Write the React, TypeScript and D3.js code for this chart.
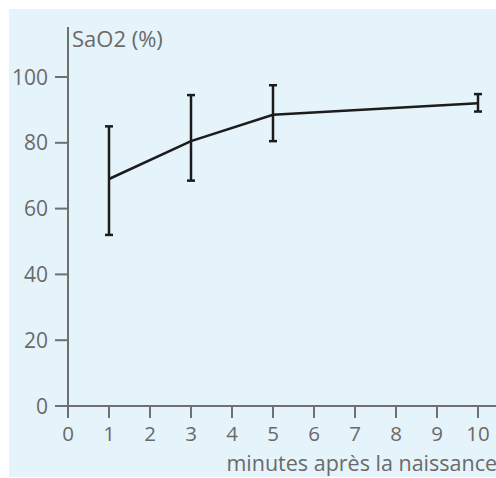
import React from "react";
import * as d3 from "d3";

const minutes = [1, 3, 5, 10];
const meanSaO2 = [69, 80.5, 88.5, 92];
const upperSaO2 = [85, 94.5, 97.5, 94.8];
const lowerSaO2 = [52, 68.5, 80.5, 89.5];
const xTicks = [0, 1, 2, 3, 4, 5, 6, 7, 8, 9, 10];
const yTicks = [0, 20, 40, 60, 80, 100];
const yTitle = "SaO2 (%)";
const xTitle = "minutes après la naissance";

export default function App() {
  const W = 496, H = 478;
  const x = d3.scaleLinear().domain([0, 10]).range([68, 478]);
  const y = d3.scaleLinear().domain([0, 100]).range([406, 77]);
  const line = d3.line<number>().x((_, i) => x(minutes[i])).y((d) => y(d));
  const axisColor = "#707070";
  const textColor = "#6a6a6a";
  const font = "'Open Sans', sans-serif";
  return (
    <svg width={W} height={H} style={{ position: "absolute", left: 0, top: 0 }}>
      <rect x={0} y={0} width={W} height={H} fill="#ffffff" />
      <rect x={9} y={9} width={W - 9} height={468} fill="#e5f3fa" />
      {/* y axis */}
      <line x1={x(0)} x2={x(0)} y1={27} y2={y(0)} stroke={axisColor} strokeWidth={2} />
      {yTicks.map((t) => (
        <g key={"y" + t}>
          <line x1={55} x2={x(0)} y1={y(t)} y2={y(t)} stroke={axisColor} strokeWidth={2} />
          <text x={48} y={y(t)} dy="0.36em" textAnchor="end" fontSize={21} fontFamily={font} fill={textColor}>
            {t}
          </text>
        </g>
      ))}
      {/* x axis */}
      <line x1={55} x2={W} y1={y(0)} y2={y(0)} stroke={axisColor} strokeWidth={2} />
      {xTicks.map((t) => (
        <g key={"x" + t}>
          <line x1={x(t)} x2={x(t)} y1={y(0)} y2={y(0) + 12} stroke={axisColor} strokeWidth={2} />
          <text x={x(t)} y={441} textAnchor="middle" fontSize={20.5} fontFamily={font} fill={textColor}>
            {t}
          </text>
        </g>
      ))}
      <text x={72} y={47} fontSize={22} fontFamily={font} fill={textColor}>
        {yTitle}
      </text>
      <text x={497} y={471} textAnchor="end" fontSize={21.5} fontFamily={font} fill={textColor}>
        {xTitle}
      </text>
      {/* error bars */}
      {minutes.map((m, i) => (
        <g key={"e" + m} stroke="#1c1c1c" strokeWidth={2.5}>
          <line x1={x(m)} x2={x(m)} y1={y(upperSaO2[i])} y2={y(lowerSaO2[i])} />
          <line x1={x(m) - 4} x2={x(m) + 4} y1={y(upperSaO2[i])} y2={y(upperSaO2[i])} />
          <line x1={x(m) - 4} x2={x(m) + 4} y1={y(lowerSaO2[i])} y2={y(lowerSaO2[i])} />
        </g>
      ))}
      <path d={line(meanSaO2) || ""} fill="none" stroke="#1c1c1c" strokeWidth={2.5} />
    </svg>
  );
}
